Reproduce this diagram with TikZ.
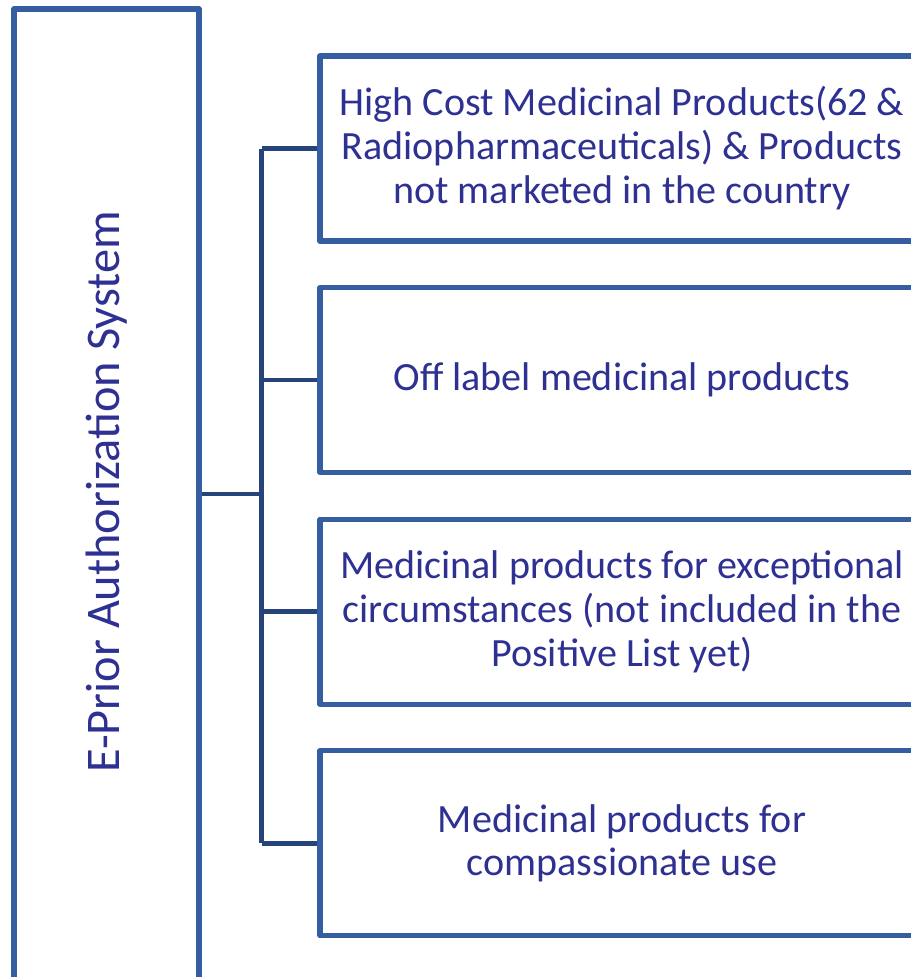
\documentclass[tikz,border=0pt]{standalone}
\usepackage{fontspec}
\setmainfont{Carlito}
\usepackage{xcolor}
\usepackage{tikz}
\usetikzlibrary{positioning,calc}

\definecolor{boxblue}{RGB}{52,94,160}
\definecolor{linkblue}{RGB}{38,68,122}
\definecolor{textblue}{RGB}{46,49,146}

\begin{document}
\begin{tikzpicture}[eas box/.style={draw=boxblue, line width=2.9pt, line join=round, rectangle, minimum width=3.7cm, minimum height=19.42cm},
    cat box/.style={draw=boxblue, line width=2.9pt, line join=round, rectangle, minimum width=12.08cm, minimum height=3.7cm, align=center, text=textblue, font=\fontsize{22.8}{25}\selectfont},
    link/.style={draw=linkblue, line width=2.7pt, line join=round},
    node distance=0.83cm]
    \path[use as bounding box, clip] (0,0) rectangle (18.22,-19.54);

    \node[eas box] (eas) at (2.13,-9.89) {};
    \node[rotate=90, text=textblue, font=\fontsize{27.5}{30}\selectfont] (eastext) at (2.13,-9.84) {E-Prior Authorization System};

    \node[cat box] (cat1) at (12.44,-2.97) {High Cost Medicinal Products(62 \&\\ Radiopharmaceuticals) \& Products\\ not marketed in the country};
    \node[cat box, below=of cat1] (cat2) {Off label medicinal products};
    \node[cat box, below=of cat2] (cat3) {Medicinal products for exceptional\\ circumstances (not included in the\\ Positive List yet)};
    \node[cat box, below=of cat3] (cat4) {Medicinal products for\\ compassionate use};

    \draw[link] (eas.east |- 0,-9.88) -- ++(1.2,0) coordinate (hub);
    \draw[link] (hub |- cat1.west) -- (hub |- cat4.west);
    \foreach \c in {cat1,cat2,cat3,cat4}
        \draw[link] (hub |- \c.west) -- (\c.west);
\end{tikzpicture}
\end{document}
